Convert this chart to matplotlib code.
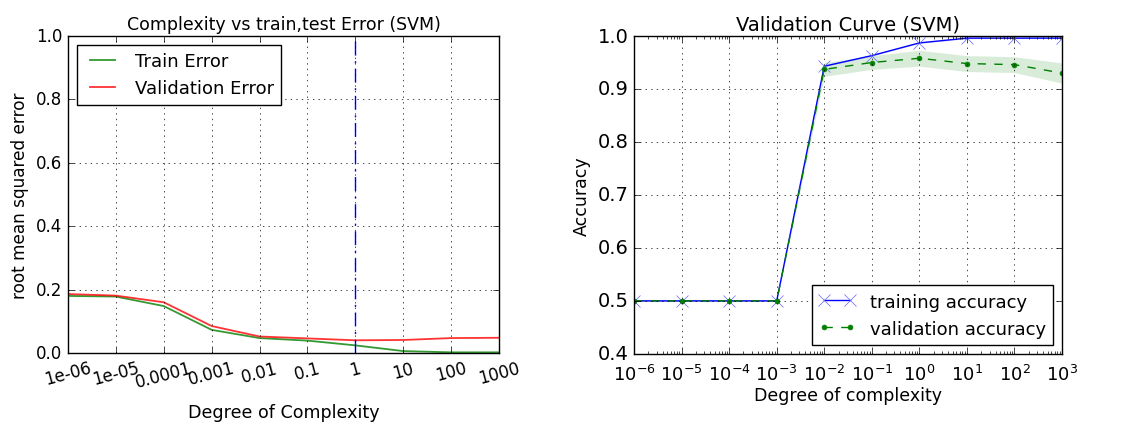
import matplotlib
matplotlib.use("Agg")
import matplotlib.pyplot as plt
import numpy as np

plt.style.use("classic")

# left panel: error vs complexity
complexity_labels = ["1e-06", "1e-05", "0.0001", "0.001", "0.01", "0.1", "1", "10", "100", "1000"]
train_error = [0.180, 0.178, 0.148, 0.073, 0.047, 0.039, 0.024, 0.006, 0.002, 0.002]
valid_error = [0.186, 0.181, 0.160, 0.085, 0.052, 0.046, 0.040, 0.041, 0.047, 0.048]
best_index = 6

# right panel: validation curve
param_range = [1e-6, 1e-5, 1e-4, 1e-3, 1e-2, 1e-1, 1e0, 1e1, 1e2, 1e3]
train_acc = [0.5, 0.5, 0.5, 0.5, 0.943, 0.963, 0.987, 0.996, 0.996, 0.996]
valid_acc = [0.5, 0.5, 0.5, 0.5, 0.937, 0.950, 0.958, 0.948, 0.946, 0.930]
valid_std = [0.001, 0.001, 0.001, 0.001, 0.013, 0.013, 0.015, 0.015, 0.015, 0.019]

fig = plt.figure(figsize=(11.25, 4.27), dpi=100, facecolor="white")

# left
ax1 = fig.add_axes([0.0604, 0.171, 0.3832, 0.7423])
x = np.arange(len(complexity_labels))
ax1.plot(x, train_error, color="g", lw=1.3, alpha=0.8, label="Train Error")
ax1.plot(x, valid_error, color="r", lw=1.3, alpha=0.8, label="Validation Error")
ax1.axvline(best_index, color="b", linestyle=(0, (10, 4, 1.5, 4)), lw=1)
ax1.set_xlim(0, len(x) - 1)
ax1.set_ylim(0, 1)
ax1.set_xticks(x)
ax1.set_xticklabels(complexity_labels, rotation=15, fontsize=12)
ax1.tick_params(axis="y", labelsize=12)
ax1.grid(True)
ax1.set_title("Complexity vs train,test Error (SVM)", fontsize=12.5)
ax1.set_xlabel("Degree of Complexity", fontsize=12.6, labelpad=9)
ax1.set_ylabel("root mean squared error", fontsize=12.2)
ax1.legend(loc="upper left", fontsize=13)

# right
ax2 = fig.add_axes([0.5636, 0.169, 0.3804, 0.7443])
ax2.plot(param_range, train_acc, color="blue", marker="x", markersize=8,
         markeredgecolor=(0.4, 0.4, 1.0), label="training accuracy")
ax2.fill_between(param_range, np.array(train_acc) - 0.001, np.array(train_acc) + 0.001,
                 color="blue", alpha=0.15, lw=0)
ax2.plot(param_range, valid_acc, color="green", linestyle="--", marker=".",
         markersize=7, label="validation accuracy")
ax2.fill_between(param_range, np.array(valid_acc) - np.array(valid_std),
                 np.array(valid_acc) + np.array(valid_std),
                 color="green", alpha=0.15, lw=0)
ax2.set_xscale("log")
ax2.set_xlim(1e-6, 1e3)
ax2.set_ylim(0.4, 1.0)
ax2.grid(True)
ax2.tick_params(axis="y", labelsize=14)
ax2.tick_params(axis="x", which="major", labelsize=13, pad=7)
ax2.set_title("Validation Curve (SVM)", fontsize=14)
ax2.set_xlabel("Degree of complexity", fontsize=12.5, labelpad=2)
ax2.set_ylabel("Accuracy", fontsize=12.5)
ax2.legend(loc="lower right", fontsize=13)

fig.savefig("out.png", dpi=100, facecolor="white")
